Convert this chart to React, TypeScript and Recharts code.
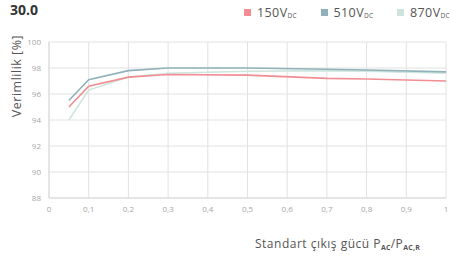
import { CartesianGrid, Line, LineChart, XAxis, YAxis } from "recharts";

const loads = [0.05, 0.1, 0.2, 0.3, 0.5, 0.7, 0.8, 1];
const v150 = [95.0, 96.6, 97.3, 97.5, 97.45, 97.2, 97.15, 97.0];
const v510 = [95.5, 97.1, 97.8, 98.0, 98.0, 97.9, 97.85, 97.7];
const v870 = [94.0, 96.3, 97.3, 97.6, 97.75, 97.8, 97.75, 97.6];

const xTicks = [0, 0.1, 0.2, 0.3, 0.4, 0.5, 0.6, 0.7, 0.8, 0.9, 1];
const yTicks = [88, 90, 92, 94, 96, 98, 100];

const series = [
  { key: "v870", label: "870V", color: "#cde5dc" },
  { key: "v150", label: "150V", color: "#f28d92" },
  { key: "v510", label: "510V", color: "#8fb1ba" },
];
const legendOrder = ["v150", "v510", "v870"];

const data = loads.map((x, i) => ({ x, v150: v150[i], v510: v510[i], v870: v870[i] }));

const font = "'Open Sans', 'DejaVu Sans', sans-serif";
const tick = { fill: "#a6a6a6", fontSize: 8, fontFamily: font };

export default function App() {
  return (
    <div style={{ position: "absolute", left: 0, top: 0, width: 452, height: 258, background: "#fff", fontFamily: font, overflow: "hidden" }}>
      <div style={{ position: "absolute", left: 10, top: 0, fontSize: 14, fontWeight: 700, color: "#333" }}>30.0</div>
      <div style={{ position: "absolute", left: 244, top: 4, display: "flex", fontSize: 12.5, color: "#555", fontFamily: font, letterSpacing: 0.4 }}>
        {legendOrder.map((k) => {
          const s = series.find((q) => q.key === k)!;
          return (
            <div key={k} style={{ display: "flex", alignItems: "center", width: 76.5 }}>
              <span style={{ display: "inline-block", width: 7, height: 7, background: s.color, marginRight: 6 }} />
              <span>
                {s.label}
                <sub style={{ fontSize: 6.5, verticalAlign: "-1px", letterSpacing: 0.2 }}>DC</sub>
              </span>
            </div>
          );
        })}
      </div>
      <LineChart width={452} height={258} data={data} margin={{ top: 42, right: 6, bottom: 40, left: 0 }}>
        <CartesianGrid stroke="#e2e2e2" strokeWidth={1} />
        <XAxis
          dataKey="x"
          type="number"
          domain={[0, 1]}
          ticks={xTicks}
          tickFormatter={(v: number) => String(v).replace(".", ",")}
          tick={tick}
          tickLine={false}
          axisLine={{ stroke: "#d9d9d9" }}
          height={20}
          interval={0}
        />
        <YAxis
          type="number"
          domain={[88, 100]}
          ticks={yTicks}
          tick={tick}
          tickLine={false}
          axisLine={{ stroke: "#d9d9d9" }}
          width={49}
          interval={0}
        />
        {series.map((s) => (
          <Line
            key={s.key}
            dataKey={s.key}
            type="linear"
            stroke={s.color}
            strokeWidth={1.6}
            dot={false}
            isAnimationActive={false}
          />
        ))}
        <text x={16} y={76} transform="rotate(-90 16 76)" textAnchor="middle" dominantBaseline="central" fontSize={12.5} fill="#555" fontFamily={font} letterSpacing={0.5}>
          Verimlilik [%]
        </text>
        <text x={255} y={248} fontSize={12} fill="#555" fontFamily={font} letterSpacing={0.5}>
          Standart çıkış gücü  P
          <tspan fontSize={7} fontWeight={700} dy={2} letterSpacing={0.2}>AC</tspan>
          <tspan dy={-2}>/P</tspan>
          <tspan fontSize={7} fontWeight={700} dy={2} letterSpacing={0.2}>AC,R</tspan>
        </text>
      </LineChart>
    </div>
  );
}
